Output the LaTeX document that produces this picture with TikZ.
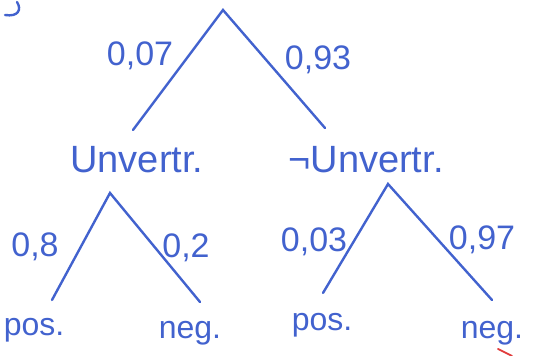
\documentclass[tikz,border=0pt]{standalone}
\usepackage{fontspec}
\setmainfont{Liberation Sans}
\definecolor{ink}{RGB}{66,98,206}
\definecolor{redink}{RGB}{225,60,60}
\begin{document}
\begin{tikzpicture}[x=0.5pt,y=-0.5pt,
  branch/.style={draw=ink,line width=1.2pt,line cap=round},
  prob/.style={text=ink,font=\fontsize{17}{17}\selectfont,inner sep=0pt},
  event/.style={text=ink,font=\fontsize{19}{19}\selectfont,inner sep=0pt},
  leaf/.style={text=ink,font=\fontsize{16}{16}\selectfont,inner sep=0pt}]
\useasboundingbox (0,0) rectangle (537,356);

% branch points and ends
\coordinate (root) at (223,10);
\coordinate (rootL) at (133,130);
\coordinate (rootR) at (325,128);
\coordinate (subL) at (110,193);
\coordinate (subLa) at (52,300);
\coordinate (subLb) at (200,302);
\coordinate (subR) at (388,184);
\coordinate (subRa) at (323,293);
\coordinate (subRb) at (492,300);

% first level
\draw[branch] (rootL) -- (root) -- (rootR);
\node[prob] (p1) at (140,56) {0,07};
\node[prob] (p2) at (318,60) {0,93};
\node[event,anchor=west] (u) at (70,160) {Unvertr.};
\node[event,anchor=west] (nu) at (288,160) {¬Unvertr.};

% second level
\draw[branch] (subLa) -- (subL) -- (subLb);
\draw[branch] (subRa) -- (subR) -- (subRb);
\node[prob] (p3) at (35,247) {0,8};
\node[prob] (p4) at (186,248) {0,2};
\node[prob] (p5) at (314,242) {0,03};
\node[prob] (p6) at (482,240) {0,97};

% outcomes
\node[leaf] (l1) at (34,330) {pos.};
\node[leaf] (l2) at (190,333) {neg.};
\node[leaf] (l3) at (322,325) {pos.};
\node[leaf] (l4) at (492,333) {neg.};

% stray pen strokes
\draw[ink,line width=1.2pt,line cap=round] (17,2) .. controls (22,10) and (18,17) .. (5,15);
\draw[redink,line width=0.9pt,line cap=round] (498,349) -- (512,356);
\end{tikzpicture}
\end{document}
